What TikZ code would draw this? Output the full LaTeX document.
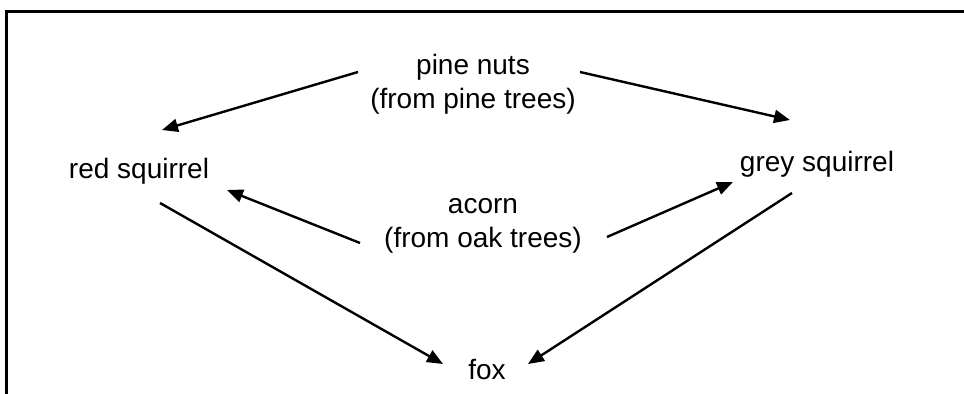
\documentclass[tikz,border=0pt]{standalone}
\usepackage{fontspec}
\setmainfont{Liberation Sans}
\usepackage{tikz}
\usetikzlibrary{arrows.meta}

\begin{document}
\begin{tikzpicture}[
  x=0.5pt, y=-0.5pt,
  every node/.style={font=\fontsize{14pt}{17pt}\selectfont, inner sep=2pt},
  food/.style={align=center},
  animal/.style={anchor=base},
  arr/.style={-{Triangle[length=8pt,width=6.5pt]}, line width=1.2pt},
  frame/.style={line width=1.5pt}
]
\useasboundingbox (0,0) rectangle (964,394);
\draw[frame] (6,394) -- (6,12) -- (964,12);

\node[food] (pine) at (473,84) {pine nuts\\(from pine trees)};
\node[food] (acorn) at (483,226) {acorn\\(from oak trees)};
\node[animal] (red) at (139,179) {red squirrel};
\node[animal] (grey) at (817,172) {grey squirrel};
\node[animal] (fox) at (487,380) {fox};

\draw[arr] ([shift={(-115,-12)}]pine.center) -- ([shift={(23,-49)}]red.base);
\draw[arr] ([shift={(107,-12)}]pine.center) -- ([shift={(-27,-52)}]grey.base);
\draw[arr] ([shift={(-123,17)}]acorn.center) -- ([shift={(88,11)}]red.base);
\draw[arr] ([shift={(124,11)}]acorn.center) -- ([shift={(-84,10)}]grey.base);
\draw[arr] ([shift={(21,24)}]red.base) -- ([shift={(-44,-16)}]fox.base);
\draw[arr] ([shift={(-25,21)}]grey.base) -- ([shift={(41,-16)}]fox.base);
\end{tikzpicture}
\end{document}
